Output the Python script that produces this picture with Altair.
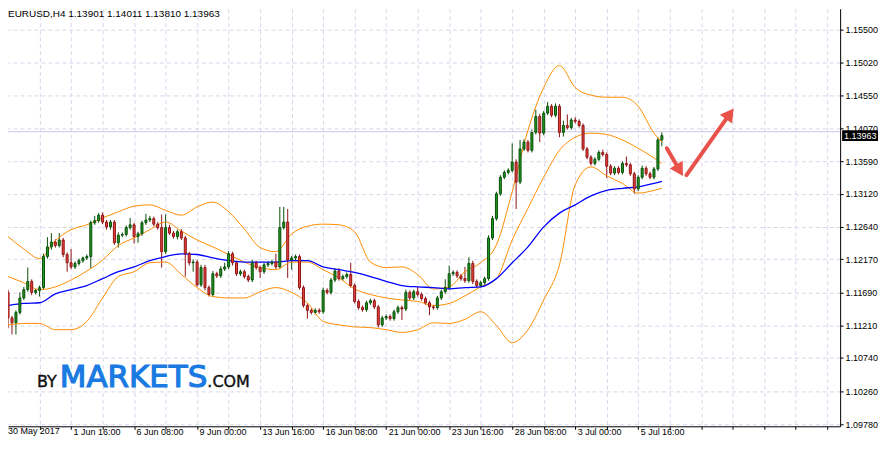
import altair as alt
import pandas as pd

# ---------------- data ----------------
TITLE = "EURUSD,H4  1.13901 1.14011 1.13810 1.13963"
LAST_PRICE = 1.13963
LAST_LABEL = "1.13963"
BID_LINE = 1.1402
OPEN0 = 1.1169

CLOSE = [
    1.1132, 1.1125, 1.1140, 1.1161, 1.1173, 1.1185, 1.1169, 1.1172, 1.1176, 1.1221,
    1.1235, 1.1242, 1.1237, 1.1245, 1.1224, 1.1212, 1.1206, 1.1211, 1.1215, 1.1219,
    1.1221, 1.1270, 1.1273, 1.1281, 1.1271, 1.1264, 1.1271, 1.1241, 1.1252, 1.1253,
    1.1263, 1.1267, 1.1250, 1.1254, 1.1270, 1.1274, 1.1276, 1.1268, 1.1263, 1.1228,
    1.1263, 1.1255, 1.1250, 1.1257, 1.1248, 1.1225, 1.1212, 1.1213, 1.1180, 1.1205,
    1.1176, 1.1166, 1.1196, 1.1193, 1.1203, 1.1206, 1.1225, 1.1212, 1.1196, 1.1199,
    1.1192, 1.1187, 1.1212, 1.1205, 1.1199, 1.1209, 1.1211, 1.1213, 1.1206, 1.1263,
    1.1271, 1.1216, 1.1219, 1.1221, 1.1176, 1.1150, 1.1143, 1.1140, 1.1143, 1.1141,
    1.1172, 1.1169, 1.1187, 1.1200, 1.1189, 1.1192, 1.1195, 1.1179, 1.1156, 1.1147,
    1.1144, 1.1154, 1.1157, 1.1148, 1.1122, 1.1132, 1.1134, 1.1131, 1.1141, 1.1147,
    1.1145, 1.1169, 1.1161, 1.1170, 1.1166, 1.1160, 1.1154, 1.1148, 1.1147, 1.1161,
    1.1170, 1.1176, 1.1196, 1.1198, 1.1193, 1.1189, 1.1186, 1.1211, 1.1185, 1.1179,
    1.1183, 1.1189, 1.1248, 1.1276, 1.1312, 1.1336, 1.1343, 1.1346, 1.1358, 1.1329,
    1.1377, 1.1387, 1.1375, 1.1401, 1.1424, 1.1400, 1.1429, 1.1439, 1.1426, 1.1439,
    1.1401, 1.1411, 1.1408, 1.1419, 1.1417, 1.1411, 1.1377, 1.1365, 1.1356, 1.1362,
    1.1372, 1.1369, 1.1352, 1.1342, 1.1349, 1.1343, 1.1356, 1.1354, 1.1341, 1.1319,
    1.1336, 1.1349, 1.1341, 1.1336, 1.1348, 1.13901, 1.13963,
]

# upper / lower wick lengths in pips
WICK_UP = [
    4, 3, 3, 8, 4, 20, 3, 2, 3, 4,
    14, 13, 4, 10, 3, 3, 20, 3, 3, 2,
    3, 3, 7, 3, 4, 3, 3, 3, 4, 3,
    3, 10, 3, 3, 3, 9, 4, 3, 3, 19,
    19, 4, 3, 3, 4, 3, 3, 4, 3, 4,
    4, 3, 4, 3, 4, 6, 4, 3, 3, 3,
    3, 3, 4, 3, 3, 3, 3, 3, 12, 30,
    22, 19, 3, 3, 3, 3, 3, 3, 3, 3,
    4, 3, 3, 4, 4, 3, 3, 17, 3, 3,
    3, 3, 3, 3, 3, 3, 3, 3, 3, 3,
    3, 4, 3, 3, 7, 3, 3, 3, 3, 3,
    3, 12, 12, 3, 3, 3, 17, 9, 4, 3,
    3, 3, 4, 4, 3, 3, 3, 3, 27, 4,
    13, 4, 3, 4, 10, 4, 3, 6, 3, 4,
    3, 7, 16, 3, 4, 3, 3, 3, 3, 3,
    3, 4, 3, 3, 3, 3, 3, 10, 3, 3,
    3, 4, 3, 3, 3, 4, 4.8,
]
WICK_DN = [
    15, 17, 17, 3, 3, 3, 4, 3, 9, 3,
    3, 4, 3, 3, 4, 13, 3, 3, 3, 3,
    3, 17, 3, 3, 3, 4, 4, 3, 7, 3,
    3, 3, 10, 9, 3, 3, 3, 3, 3, 23,
    3, 3, 3, 4, 3, 33, 4, 13, 3, 3,
    4, 3, 3, 3, 3, 3, 3, 4, 3, 3,
    3, 3, 3, 3, 9, 3, 3, 3, 3, 3,
    3, 26, 14, 3, 3, 3, 12, 3, 3, 3,
    3, 3, 3, 3, 3, 3, 3, 3, 3, 3,
    3, 3, 3, 3, 4, 3, 3, 3, 3, 3,
    16, 3, 3, 3, 3, 3, 3, 12, 3, 3,
    3, 3, 3, 3, 3, 3, 3, 3, 4, 3,
    3, 3, 3, 3, 3, 3, 3, 3, 3, 39,
    3, 3, 3, 3, 3, 13, 3, 3, 3, 3,
    7, 6, 3, 3, 3, 3, 3, 3, 3, 3,
    3, 3, 17, 3, 3, 3, 3, 3, 3, 7,
    3, 3, 3, 3, 3, 3, 9.1,
]

X_LABELS = ["30 May 2017", "1 Jun 16:00", "6 Jun 08:00", "9 Jun 00:00",
            "13 Jun 16:00", "16 Jun 08:00", "21 Jun 00:00", "23 Jun 16:00",
            "28 Jun 08:00", "3 Jul 00:00", "5 Jul 16:00"]
Y_TICKS = [1.09780, 1.10260, 1.10740, 1.11210, 1.11690, 1.12170, 1.12640,
           1.13120, 1.13590, 1.14070, 1.14550, 1.15020, 1.15500]

BAND_IDX = list(range(0, 165, 4)) + [166]
UPPER = [1.1250, 1.1232, 1.1218, 1.1244, 1.1260, 1.1267, 1.1277, 1.1286, 1.1294, 1.1296,
         1.1288, 1.1281, 1.1293, 1.1300, 1.1286, 1.1261, 1.1234, 1.1228, 1.1254, 1.1265,
         1.1268, 1.1267, 1.1257, 1.1213, 1.1205, 1.1206, 1.1195, 1.1174, 1.1177, 1.1199,
         1.1212, 1.1238, 1.1315, 1.1404, 1.1466, 1.1498, 1.1466, 1.1455, 1.1452, 1.1452,
         1.1439, 1.1400, 1.1387]
MIDDLE = [1.1192, 1.1183, 1.1173, 1.1177, 1.1187, 1.1200, 1.1216, 1.1237, 1.1248, 1.1260,
          1.1271, 1.1258, 1.1245, 1.1235, 1.1224, 1.1213, 1.1205, 1.1202, 1.1213, 1.1213,
          1.1202, 1.1190, 1.1174, 1.1166, 1.1161, 1.1158, 1.1156, 1.1150, 1.1153, 1.1164,
          1.1177, 1.1189, 1.1245, 1.1291, 1.1336, 1.1375, 1.1394, 1.1400, 1.1398, 1.1390,
          1.1378, 1.1364, 1.1356]
LOWER = [1.1122, 1.1124, 1.1124, 1.1115, 1.1115, 1.1127, 1.1161, 1.1192, 1.1199, 1.1212,
         1.1213, 1.1195, 1.1176, 1.1163, 1.1161, 1.1161, 1.1170, 1.1176, 1.1169, 1.1154,
         1.1127, 1.1122, 1.1119, 1.1118, 1.1115, 1.1111, 1.1115, 1.1125, 1.1124, 1.1130,
         1.1141, 1.1121, 1.1096, 1.1115, 1.1158, 1.1209, 1.1325, 1.1351, 1.1338, 1.1327,
         1.1313, 1.1317, 1.1320]
MA = [1.1150, 1.1153, 1.1154, 1.1167, 1.1173, 1.1179, 1.1189, 1.1199, 1.1206, 1.1215,
      1.1221, 1.1225, 1.1224, 1.1219, 1.1215, 1.1213, 1.1213, 1.1213, 1.1215, 1.1215,
      1.1206, 1.1202, 1.1198, 1.1192, 1.1185, 1.1179, 1.1177, 1.1176, 1.1174, 1.1176,
      1.1177, 1.1189, 1.1212, 1.1235, 1.1264, 1.1284, 1.1296, 1.1309, 1.1317, 1.1320,
      1.1322, 1.1327, 1.1330]

# arrows drawn on the chart (bar index / price)
ARROW_X0 = [167.25, 172.25]
ARROW_Y0 = [1.1378, 1.1339]
ARROW_X1 = [170.5, 183.25]
ARROW_Y1 = [1.1346, 1.1428]
ARROW_ANGLE = [149, 36]

# ---------------- build tables ----------------
rows = []
prev = OPEN0
for i, c in enumerate(CLOSE):
    o = prev
    rows.append({"i": i, "o": o, "c": c,
                 "h": max(o, c) + WICK_UP[i] * 0.0001,
                 "l": min(o, c) - WICK_DN[i] * 0.0001})
    prev = c
candles = pd.DataFrame(rows)
bands = pd.DataFrame({"i": BAND_IDX, "up": UPPER, "mid": MIDDLE, "lo": LOWER, "ma": MA})
arrows = pd.DataFrame({"x0": ARROW_X0, "y0": ARROW_Y0, "x1": ARROW_X1, "y1": ARROW_Y1,
                       "ang": ARROW_ANGLE})

W, H = 835, 419
FONT = "Liberation Sans"
FS = 9
GRID = "#d6d6ec"
XS = alt.Scale(domain=[1.25, 210], nice=False, zero=False)
YS = alt.Scale(domain=[1.09749, 1.15803], nice=False, zero=False)

label_arr = "[" + ",".join("'" + s + "'" for s in X_LABELS) + "]"
X_AXIS = alt.Axis(values=list(range(8, 209, 8)),
                  labelExpr=label_arr + "[datum.value / 16] || ''",
                  labelAlign="left", labelBaseline="alphabetic", labelOffset=2,
                  labelFont=FONT, labelFontSize=FS, labelColor="black",
                  labelOverlap=False, labelFlush=False, labelBound=False, labelPadding=5,
                  tickSize=3, tickColor="black", domainColor="black",
                  grid=True, gridColor=GRID, gridDash=[4, 3], title=None)
Y_AXIS = alt.Axis(orient="right", values=Y_TICKS, format=".5f",
                  labelFont=FONT, labelFontSize=FS, labelColor="black",
                  labelOverlap=False, labelFlush=False, labelBound=False, labelPadding=2,
                  tickSize=3, tickColor="black", domainColor="black",
                  grid=True, gridColor=GRID, gridDash=[4, 3], title=None)


def X(field):
    return alt.X(field + ":Q", scale=XS, axis=X_AXIS)


def Y(field):
    return alt.Y(field + ":Q", scale=YS, axis=Y_AXIS)


GREEN_FILL, GREEN_LINE = "#1f9a1f", "#0b4f0b"
RED_FILL, RED_LINE = "#e8433b", "#8e1515"
is_up = "datum.c >= datum.o"

base = alt.Chart(candles)
wicks = base.mark_rule(strokeWidth=1, clip=True).encode(
    x=X("i"), y=Y("l"), y2="h:Q",
    color=alt.condition(is_up, alt.value(GREEN_LINE), alt.value(RED_LINE)),
)
bodies = base.mark_bar(size=2, strokeWidth=1, clip=True).encode(
    x=X("i"), y=Y("o"), y2="c:Q",
    fill=alt.condition(is_up, alt.value(GREEN_FILL), alt.value(RED_FILL)),
    stroke=alt.condition(is_up, alt.value(GREEN_LINE), alt.value(RED_LINE)),
)

bline = alt.Chart(bands)


def band(field, color, width):
    return bline.mark_line(color=color, strokeWidth=width, interpolate="monotone",
                           clip=True).encode(x=X("i"), y=Y(field))


upper = band("up", "#ff8c00", 1)
middle = band("mid", "#ff8c00", 1)
lower = band("lo", "#ff8c00", 1)
ma = band("ma", "#0000ff", 1.3)

bid = alt.Chart(pd.DataFrame({"p": [BID_LINE]})).mark_rule(color="#c8c8e6", strokeWidth=1).encode(
    y=Y("p"))

last_df = pd.DataFrame({"p": [LAST_PRICE], "lo": [LAST_PRICE - 0.00078],
                        "hi": [LAST_PRICE + 0.00078], "t": [LAST_LABEL]})
last_box = alt.Chart(last_df).mark_rect(color="black", clip=False).encode(
    x=alt.value(837), x2=alt.value(873), y=Y("lo"), y2="hi:Q")
last_txt = alt.Chart(last_df).mark_text(color="white", font=FONT, fontSize=FS,
                                        align="left", baseline="middle", clip=False).encode(
    x=alt.value(839), y=Y("p"), text="t:N")

first_label = alt.Chart(pd.DataFrame({"t": [X_LABELS[0]]})).mark_text(
    font=FONT, fontSize=FS, color="black", align="left", baseline="alphabetic",
    clip=False).encode(x=alt.value(0), y=alt.value(H + 8), text="t:N")

title = alt.Chart(pd.DataFrame({"t": [TITLE]})).mark_text(
    font=FONT, fontSize=10, color="black", align="left", baseline="middle").encode(
    x=alt.value(0), y=alt.value(5), text="t:N")


def wm_text(t, x, size, color, stroke):
    return alt.Chart(pd.DataFrame({"t": [t]})).mark_text(
        font="DejaVu Sans", fontSize=size, color=color, align="left",
        baseline="alphabetic", stroke=color, strokeWidth=stroke).encode(
        x=alt.value(x), y=alt.value(380), text="t:N")


watermark = alt.layer(
    wm_text("BY", 29, 16, "#111111", 0.4),
    wm_text("MARKETS", 52, 31, "#1a7ae2", 1.2),
    wm_text(".COM", 200, 16, "#111111", 0.4),
)

ARROW_COLOR = "#e8524a"
shafts = alt.Chart(arrows).mark_rule(color=ARROW_COLOR, strokeWidth=4, strokeCap="round").encode(
    x=X("x0"), y=Y("y0"), x2="x1:Q", y2="y1:Q")
heads = alt.Chart(arrows).mark_point(shape="triangle-up", filled=True, size=230,
                                     color=ARROW_COLOR, opacity=1).encode(
    x=X("x1"), y=Y("y1"), angle=alt.Angle("ang:Q", scale=None))

chart = alt.layer(
    wicks, bid, watermark, upper, middle, lower, ma, bodies, title, first_label,
    last_box, last_txt, shafts, heads,
).properties(
    width=W, height=H,
    padding={"left": 0, "top": 0, "right": 38, "bottom": 10},
    autosize=alt.AutoSizeParams(type="none"),
    background="white",
).configure_view(stroke=None)

chart.save("out.html", embed_options={"renderer": "svg", "actions": False})
